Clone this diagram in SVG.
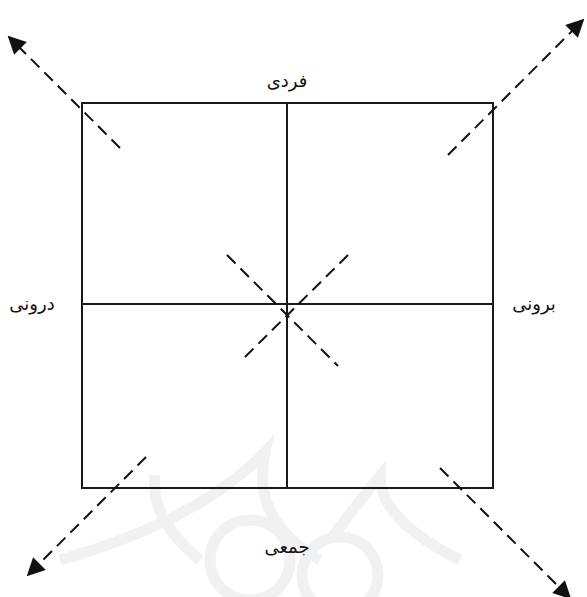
<svg xmlns="http://www.w3.org/2000/svg" width="587" height="597" viewBox="0 0 587 597">
<defs>
<style>
.wm{fill:none;stroke:#f1f1f1;stroke-width:11}
.box{fill:none;stroke:#1a1a1a;stroke-width:2}
.dash{fill:none;stroke:#111;stroke-width:2;stroke-dasharray:12 7}
.lbl{font-family:"DejaVu Sans",sans-serif;font-size:18px;fill:#111;text-anchor:middle}
</style>
<marker id="ah" viewBox="0 0 10 10" refX="9" refY="5" markerWidth="10" markerHeight="9" markerUnits="strokeWidth" orient="auto">
<path d="M0,0 L10,5 L0,10 Z" fill="#111"/>
</marker>
</defs>
<g id="watermark">
<path class="wm" d="M 60 560 Q 200 520 265 452 Q 250 520 320 560"/>
<path class="wm" d="M 330 540 Q 360 500 380 476 Q 380 520 460 560"/>
<path class="wm" d="M 155 475 Q 150 520 200 560"/>
<circle class="wm" cx="250" cy="560" r="40"/>
<circle class="wm" cx="340" cy="575" r="38"/>
</g>
<g id="quadrants">
<rect class="box" x="82" y="103" width="411" height="385"/>
<line class="box" x1="287" y1="103" x2="287" y2="488"/>
<line class="box" x1="82" y1="304" x2="493" y2="304"/>
</g>
<g id="connectors">
<line class="dash" x1="120" y1="148" x2="9" y2="37" marker-end="url(#ah)"/>
<line class="dash" x1="448" y1="155" x2="583" y2="20" marker-end="url(#ah)"/>
<line class="dash" x1="146" y1="457" x2="28" y2="575" marker-end="url(#ah)"/>
<line class="dash" x1="440" y1="468" x2="570" y2="598" marker-end="url(#ah)"/>
<line class="dash" x1="227" y1="255" x2="338" y2="366"/>
<line class="dash" x1="348" y1="255" x2="244" y2="358"/>
</g>
<g id="label-top"><text class="lbl" x="287" y="87">فردی</text></g>
<g id="label-left"><text class="lbl" x="32" y="310">درونی</text></g>
<g id="label-right"><text class="lbl" x="534" y="310">برونی</text></g>
<g id="label-bottom"><text class="lbl" x="287" y="553">جمعی</text></g>
</svg>
